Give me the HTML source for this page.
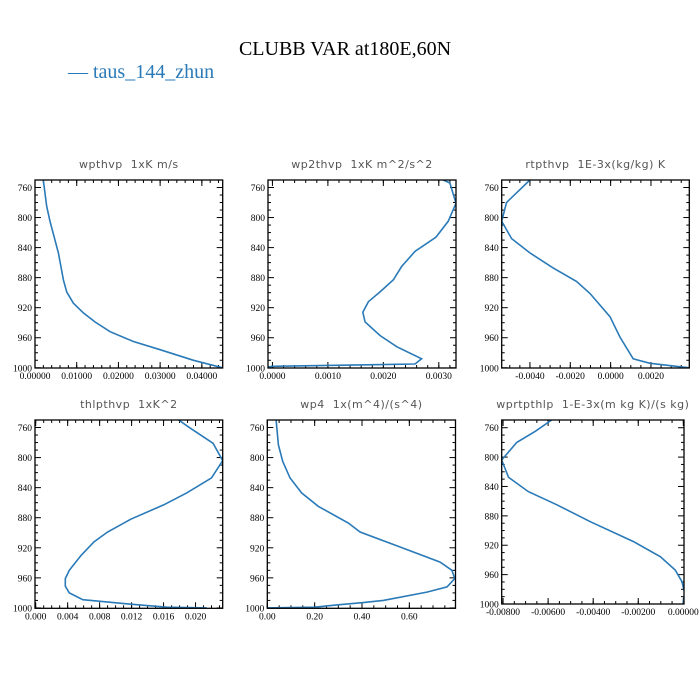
<!DOCTYPE html>
<html><head><meta charset="utf-8"><style>
body{margin:0;background:#fff;width:700px;height:700px;overflow:hidden}
svg{display:block}
.tl{font-family:"DejaVu Sans","Liberation Sans",sans-serif;font-size:11px;fill:#555;letter-spacing:0.5px}
.tk{font-family:"Liberation Serif",serif;font-size:9.5px;fill:#000}
</style></head><body>
<svg id="chart" width="700" height="700" viewBox="0 0 700 700">
<text x="345" y="55" text-anchor="middle" font-family="Liberation Serif,serif" font-size="20">CLUBB VAR at180E,60N</text>
<text x="68" y="78" font-family="Liberation Serif,serif" font-size="20" fill="#2a7ab8">— taus_144_zhun</text>
</svg>
<script>
// Panel data: x values and pressure levels
const p1 = [750,785,805,847,883,899,914,927,939,952,965,976,990,1000];
const v1 = [0.0020,0.0028,0.0036,0.0056,0.0068,0.0076,0.0092,0.0116,0.0144,0.018,0.0236,0.030,0.038,0.045];
const p2 = [750,754,781,805,826,845,865,883,899,912,926,939,957,972,988,995,998,999];
const v2 = [0.00308,0.0032,0.00331,0.00317,0.00295,0.00257,0.00233,0.00218,0.00194,0.00173,0.00163,0.00167,0.00194,0.00224,0.00269,0.00257,0.0000,-0.00008];
const p3 = [750,780,805,828,847,867,885,901,932,959,988,994,1000];
const v3 = [-0.0040,-0.00516,-0.0054,-0.00491,-0.0040,-0.00285,-0.00169,-0.00103,-0.00003,0.00046,0.00112,0.00195,0.0039];
const p4 = [750,759,781,804,827,847,863,882,899,912,930,950,961,971,980,989,995,999,1000];
const v4 = [0.0179,0.0191,0.0222,0.0234,0.0220,0.0189,0.0160,0.0119,0.0090,0.0073,0.0057,0.0042,0.0037,0.0037,0.0042,0.0059,0.0119,0.0164,0.0214];
const p5 = [750,783,805,827,847,865,887,899,919,939,950,961,972,979,990,993,996,999,1000];
const v5 = [0.037,0.047,0.065,0.096,0.145,0.216,0.342,0.392,0.561,0.730,0.780,0.792,0.759,0.674,0.490,0.40,0.293,0.2,0];
const p6 = [749.5,765,780,804,827.5,847,865,888,915,935.6,953.7,969.6,985.4,999];
const v6 = [-0.00584,-0.00658,-0.00739,-0.00806,-0.00776,-0.00688,-0.00561,-0.00413,-0.00221,-0.00102,-0.00036,-0.00006,0.00006,-0.00001];
const yTicks = [760,800,840,880,920,960,1000];
const titles = ["wpthvp  1xK m/s","wp2thvp  1xK m^2/s^2","rtpthvp  1E-3x(kg/kg) K","thlpthvp  1xK^2","wp4  1x(m^4)/(s^4)","wprtpthlp  1-E-3x(m kg K)/(s kg)"];
const xt1 = [0,0.01,0.02,0.03,0.04], xl1 = ["0.00000","0.01000","0.02000","0.03000","0.04000"];
const xt2 = [0,0.001,0.002,0.003], xl2 = ["0.0000","0.0010","0.0020","0.0030"];
const xt3 = [-0.004,-0.002,0,0.002], xl3 = ["-0.0040","-0.0020","0.0000","0.0020"];
const xt4 = [0,0.004,0.008,0.012,0.016,0.020], xl4 = ["0.000","0.004","0.008","0.012","0.016","0.020"];
const xt5 = [0,0.2,0.4,0.6], xl5 = ["0.00","0.20","0.40","0.60"];
const xt6 = [-0.008,-0.006,-0.004,-0.002,0], xl6 = ["-0.00800","-0.00600","-0.00400","-0.00200","0.00000"];

const NS="http://www.w3.org/2000/svg";
const svg=document.getElementById('chart');
function mk(tag,attrs,parent){const e=document.createElementNS(NS,tag);for(const k in attrs)e.setAttribute(k,attrs[k]);(parent||svg).appendChild(e);return e;}
const panels=[
 {L:35,R:222.7,T:180,B:368,xmin:0,xmax:0.045,ymin:750,ymax:1000.3,p:p1,v:v1,xt:xt1,xl:xl1,minor:0.002,name:'wpthvp'},
 {L:268,R:456,T:180,B:368,xmin:-0.00008,xmax:0.00331,ymin:750,ymax:1000.3,p:p2,v:v2,xt:xt2,xl:xl2,minor:0.0002,name:'wp2thvp'},
 {L:501.7,R:689.3,T:180,B:368,xmin:-0.0054,xmax:0.0039,ymin:750,ymax:1000.3,p:p3,v:v3,xt:xt3,xl:xl3,minor:0.0005,name:'rtpthvp'},
 {L:35,R:222.7,T:420,B:608.3,xmin:-0.000087,xmax:0.0234,ymin:750,ymax:1000.5,p:p4,v:v4,xt:xt4,xl:xl4,minor:0.001,name:'thlpthvp'},
 {L:267.3,R:455.5,T:420,B:608.3,xmin:0,xmax:0.795,ymin:750,ymax:1000.5,p:p5,v:v5,xt:xt5,xl:xl5,minor:0.05,name:'wp4'},
 {L:501.7,R:684,T:420,B:604,xmin:-0.00806,xmax:0.00003,ymin:749.5,ymax:1000,p:p6,v:v6,xt:xt6,xl:xl6,minor:0.0005,name:'wprtpthlp'}
];
panels.forEach((P,i)=>{
 const g=mk('g',{});
 
 
 const xs=v=>P.L+(v-P.xmin)/(P.xmax-P.xmin)*(P.R-P.L);
 const ys=p=>P.T+(p-P.ymin)/(P.ymax-P.ymin)*(P.B-P.T);
 const t=mk('text',{x:(P.L+P.R)/2,y:P.T-12,'text-anchor':'middle',class:'tl'},g);
 t.textContent=titles[i].replace(/ /g,'\u00a0');
 
 
 // y ticks
 for(let p=760;p<=1000;p+=10){
  const y=ys(p);const maj=(p-760)%40===0;const len=maj?6:3;
  mk('line',{x1:P.L,x2:P.L+len,y1:y,y2:y,stroke:'#000','stroke-width':1},g);
  mk('line',{x1:P.R,x2:P.R-len,y1:y,y2:y,stroke:'#000','stroke-width':1},g);
 }
 yTicks.forEach(p=>{const tx=mk('text',{x:P.L-3,y:ys(p)+3.5,'text-anchor':'end',class:'tk'},g);tx.textContent=p;
  
  });
 // x minor ticks
 const start=Math.ceil(P.xmin/P.minor-1e-6);
 for(let k=start;k*P.minor<=P.xmax+1e-12;k++){const x=xs(k*P.minor);
  mk('line',{x1:x,x2:x,y1:P.B,y2:P.B-3,stroke:'#000','stroke-width':1},g);
  mk('line',{x1:x,x2:x,y1:P.T,y2:P.T+3,stroke:'#000','stroke-width':1},g);}
 P.xt.forEach((v,j)=>{const x=xs(v);
  mk('line',{x1:x,x2:x,y1:P.B,y2:P.B-6,stroke:'#000','stroke-width':1},g);
  mk('line',{x1:x,x2:x,y1:P.T,y2:P.T+6,stroke:'#000','stroke-width':1},g);
  const tx=mk('text',{x:x,y:P.B+11,'text-anchor':'middle',class:'tk'},g);tx.textContent=P.xl[j];
  
  });
 // series
 const d=P.p.map((p,k)=>(k?'L':'M')+xs(P.v[k]).toFixed(1)+','+ys(p).toFixed(1)).join(' ');
 const cp=mk('clipPath',{id:'c'+i},g);mk('rect',{x:P.L,y:P.T,width:P.R-P.L,height:P.B-P.T},cp);
 const path=mk('path',{d:d,fill:'none',stroke:'#2a7ab8','stroke-width':1.6,'clip-path':'url(#c'+i+')'},g);
 
 
 const box=mk('rect',{x:P.L,y:P.T,width:P.R-P.L,height:P.B-P.T,fill:'none',stroke:'#000','stroke-width':1.3},g);
 
 
});
</script>
</body></html>
